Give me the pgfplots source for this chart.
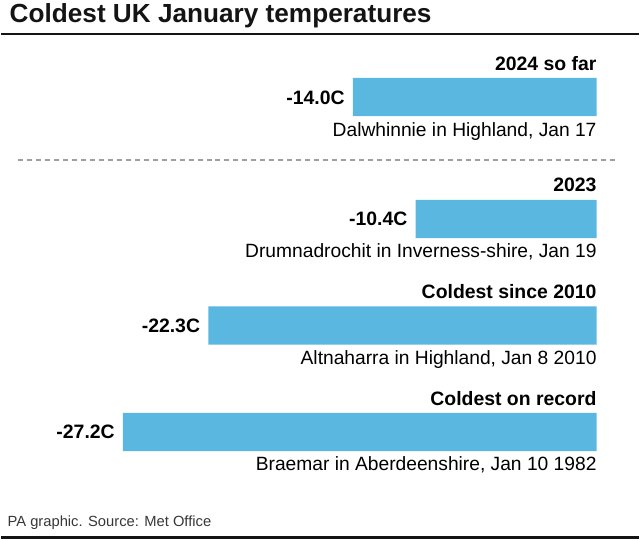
\documentclass[border=0pt]{standalone}
\usepackage{pgfplots}
\pgfplotsset{compat=1.18}
\usepackage{fontspec}
\setmainfont{Liberation Sans}
\definecolor{barblue}{RGB}{90,183,224}
\definecolor{ink}{RGB}{20,20,20}
\begin{document}
\begin{tikzpicture}
\begin{axis}[
  width=640pt, height=542pt, scale only axis,
  xmin=-34.1714, xmax=2.4,
  ymin=0, ymax=542, y dir=reverse,
  hide axis, clip=false,
  xbar, bar width=38.5pt,
]
\path[draw=none] (rel axis cs:0,0) rectangle (rel axis cs:1,1);
\addplot[fill=barblue, draw=none, bar shift=0pt] coordinates {(-14.0,97.5) (-10.4,220) (-22.3,327) (-27.2,434)};
% title and rules
\node[anchor=base west, font=\bfseries\fontsize{26.3}{28}\selectfont, text=ink, inner sep=0pt] at (axis cs:-33.71,23) {Coldest UK January temperatures};
\draw[ink, line width=2pt] (axis cs:-34.1714,33.7) -- (axis cs:2.4,33.7);
\draw[gray!75, line width=1.3pt, dash pattern=on 5pt off 4pt] (axis cs:-33.2,160.7) -- (axis cs:1.25,160.7);
\draw[ink, line width=3pt] (axis cs:-34.1714,540.5) -- (axis cs:2.4,540.5);
% group 1
\node[anchor=base east, font=\bfseries\fontsize{19.5}{21}\selectfont, inner sep=0pt] at (axis cs:0,70.5) {2024 so far};
\node[anchor=base east, font=\bfseries\fontsize{19.5}{21}\selectfont, inner sep=0pt] at (axis cs:-14.46,104.5) {-14.0C};
\node[anchor=base east, font=\fontsize{19.3}{21}\selectfont, inner sep=0pt] at (axis cs:0,137) {Dalwhinnie in Highland, Jan 17};
% group 2
\node[anchor=base east, font=\bfseries\fontsize{19.5}{21}\selectfont, inner sep=0pt] at (axis cs:0,192.7) {2023};
\node[anchor=base east, font=\bfseries\fontsize{19.5}{21}\selectfont, inner sep=0pt] at (axis cs:-10.86,227) {-10.4C};
\node[anchor=base east, font=\fontsize{19.3}{21}\selectfont, inner sep=0pt] at (axis cs:0,259) {Drumnadrochit in Inverness-shire, Jan 19};
% group 3
\node[anchor=base east, font=\bfseries\fontsize{19.5}{21}\selectfont, inner sep=0pt] at (axis cs:0,300) {Coldest since 2010};
\node[anchor=base east, font=\bfseries\fontsize{19.5}{21}\selectfont, inner sep=0pt] at (axis cs:-22.76,334) {-22.3C};
\node[anchor=base east, font=\fontsize{19.3}{21}\selectfont, inner sep=0pt] at (axis cs:0,366) {Altnaharra in Highland, Jan 8 2010};
% group 4
\node[anchor=base east, font=\bfseries\fontsize{19.5}{21}\selectfont, inner sep=0pt] at (axis cs:0,407) {Coldest on record};
\node[anchor=base east, font=\bfseries\fontsize{19.5}{21}\selectfont, inner sep=0pt] at (axis cs:-27.66,441) {-27.2C};
\node[anchor=base east, font=\fontsize{19.3}{21}\selectfont, inner sep=0pt] at (axis cs:0,473) {Braemar in Aberdeenshire, Jan 10 1982};
% footer
\node[anchor=base west, font=\fontsize{14.8}{16}\selectfont, text=ink!85, inner sep=0pt] at (axis cs:-33.83,529) {PA graphic. Source: Met Office};
\end{axis}
\end{tikzpicture}
\end{document}
